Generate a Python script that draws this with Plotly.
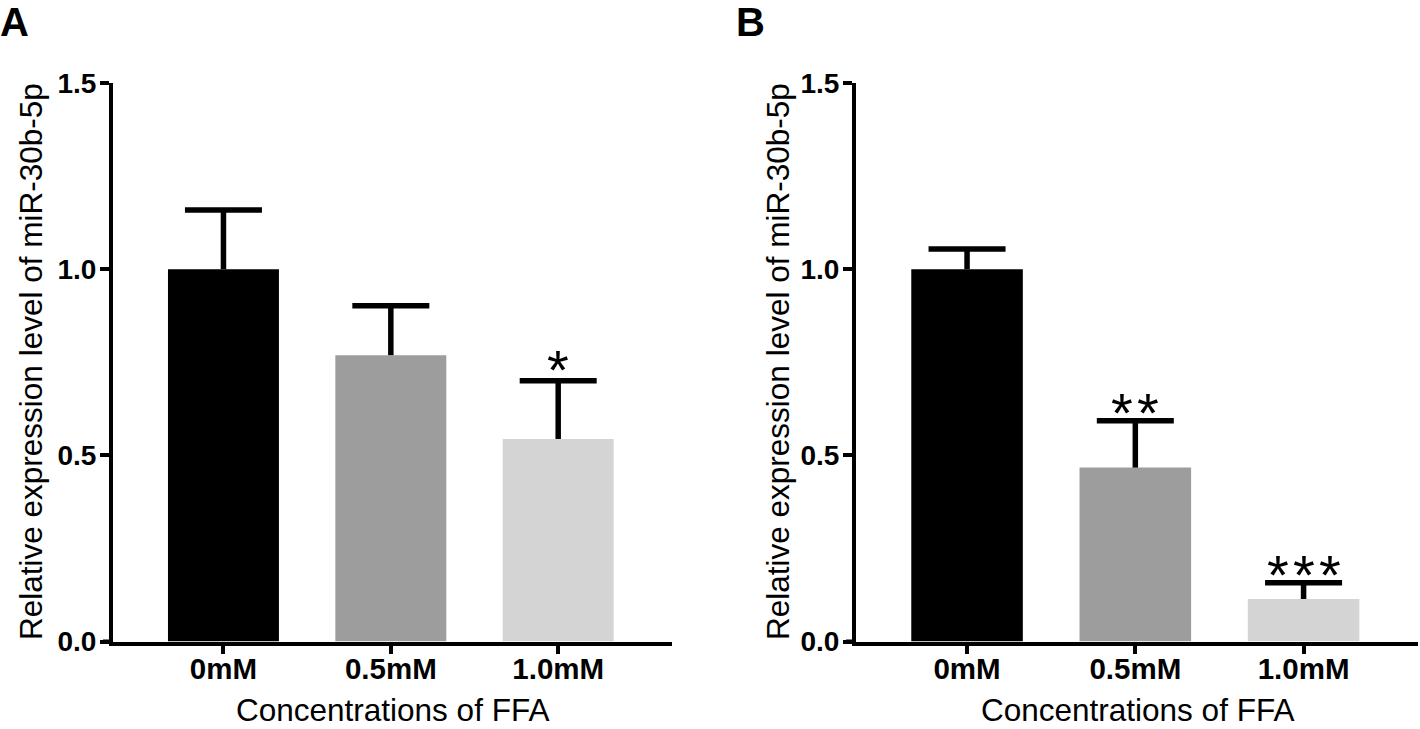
import plotly.graph_objects as go

categories = ["0mM", "0.5mM", "1.0mM"]
values_a = [1.0, 0.769, 0.544]
errors_a = [0.159, 0.133, 0.156]
values_b = [1.0, 0.467, 0.114]
errors_b = [0.054, 0.126, 0.044]
stars_a = [0, 0, 1]
stars_b = [0, 2, 3]
bar_colors = ["#000000", "#9d9d9d", "#d4d4d4"]
y_ticks = [0.0, 0.5, 1.0, 1.5]
panel_labels = ["A", "B"]
x_title = "Concentrations of FFA"
y_title = "Relative expression level of miR-30b-5p"

W, H = 1420, 729
FONT = "Liberation Sans, Arial, sans-serif"
ERR_W = 5.5

fig = go.Figure()

panels = [
    dict(vals=values_a, errs=errors_a, stars=stars_a, xa="x", ya="y",
         xdom=(113 / W, 672 / W), ytx=31, lab_x=-2, star_shift=-22),
    dict(vals=values_b, errs=errors_b, stars=stars_b, xa="x2", ya="y2",
         xdom=(856 / W, 1418 / W), ytx=778, lab_x=734, star_shift=-25),
]
ydom = (1 - 641.5 / H, 1 - 83 / H)

for i, p in enumerate(panels):
    fig.add_trace(go.Bar(
        x=categories, y=p["vals"], xaxis=p["xa"], yaxis=p["ya"],
        marker=dict(color=bar_colors, line=dict(width=0)),
        showlegend=False, hoverinfo="skip",
    ))
    tops = [v + e for v, e in zip(p["vals"], p["errs"])]
    # upper error stems (from bar top to mean + SD)
    sx, sy = [], []
    for c, v, t in zip(categories, p["vals"], tops):
        sx += [c, c, None]
        sy += [v, t, None]
    fig.add_trace(go.Scatter(
        x=sx, y=sy, xaxis=p["xa"], yaxis=p["ya"], mode="lines",
        line=dict(color="black", width=ERR_W), showlegend=False,
        hoverinfo="skip", connectgaps=False,
    ))
    # caps
    fig.add_trace(go.Scatter(
        x=categories, y=tops, xaxis=p["xa"], yaxis=p["ya"], mode="markers",
        marker=dict(symbol="line-ew", size=55,
                    line=dict(color="black", width=ERR_W)),
        showlegend=False, hoverinfo="skip",
    ))
    for c, t, n in zip(categories, tops, p["stars"]):
        for k in range(n):
            fig.add_annotation(x=c, y=t, xref=p["xa"], yref=p["ya"],
                               text="*", showarrow=False, yanchor="bottom",
                               yshift=p["star_shift"],
                               xshift=(k - (n - 1) / 2) * 26,
                               font=dict(family=FONT, size=56, color="black"))

axis_common = dict(showline=True, linewidth=4, linecolor="black",
                   ticks="outside", tickwidth=4, tickcolor="black",
                   showgrid=False, zeroline=False, mirror=False,
                   automargin=False)

for i, p in enumerate(panels):
    sfx = "" if i == 0 else "2"
    fig.update_layout(**{
        "xaxis" + sfx: dict(domain=list(p["xdom"]), range=[-0.66, 2.68],
                            autorange=False, anchor="y" + sfx, ticklen=8,
                            type="category", ticklabelstandoff=-10,
                            tickfont=dict(family=FONT, size=29.5, color="black",
                                          weight="bold"),
                            **axis_common),
        "yaxis" + sfx: dict(domain=list(ydom), range=[0, 1.5],
                            autorange=False, anchor="x" + sfx, ticklen=9,
                            tickvals=y_ticks, tickformat=".1f",
                            ticklabelstandoff=-2,
                            tickfont=dict(family=FONT, size=28, color="black",
                                          weight="bold"),
                            **axis_common),
    })
    # x-axis line extension to meet the y tick at zero
    fig.add_shape(type="line", xref="x" + sfx + " domain", yref="y" + sfx,
                  x0=-10 / ((p["xdom"][1] - p["xdom"][0]) * W), x1=0, y0=0, y1=0,
                  line=dict(color="black", width=4))
    xc = (p["xdom"][0] + p["xdom"][1]) / 2
    fig.add_annotation(x=xc, y=1 - 710 / H, xref="paper", yref="paper",
                       text=x_title, showarrow=False, xanchor="center",
                       yanchor="middle",
                       font=dict(family=FONT, size=31.5, color="black"))
    fig.add_annotation(x=p["ytx"] / W, y=1 - 362 / H,
                       xref="paper", yref="paper", text=y_title,
                       showarrow=False, textangle=-90, xanchor="center",
                       yanchor="middle",
                       font=dict(family=FONT, size=31.5, color="black"))
    fig.add_annotation(x=p["lab_x"] / W, y=1 - 22 / H, xref="paper",
                       yref="paper", text=panel_labels[i], showarrow=False,
                       xanchor="left", yanchor="middle",
                       font=dict(family=FONT, size=40, color="black",
                                 weight="bold"))

fig.update_layout(width=W, height=H, margin=dict(l=0, r=0, t=0, b=0, pad=0,
                                                 autoexpand=False),
                  paper_bgcolor="white", plot_bgcolor="white",
                  bargap=0.337)

fig.write_html("out.html", config={"displayModeBar": False},
               post_script="document.body.style.margin='0';"
                           "document.body.style.overflow='hidden';")
